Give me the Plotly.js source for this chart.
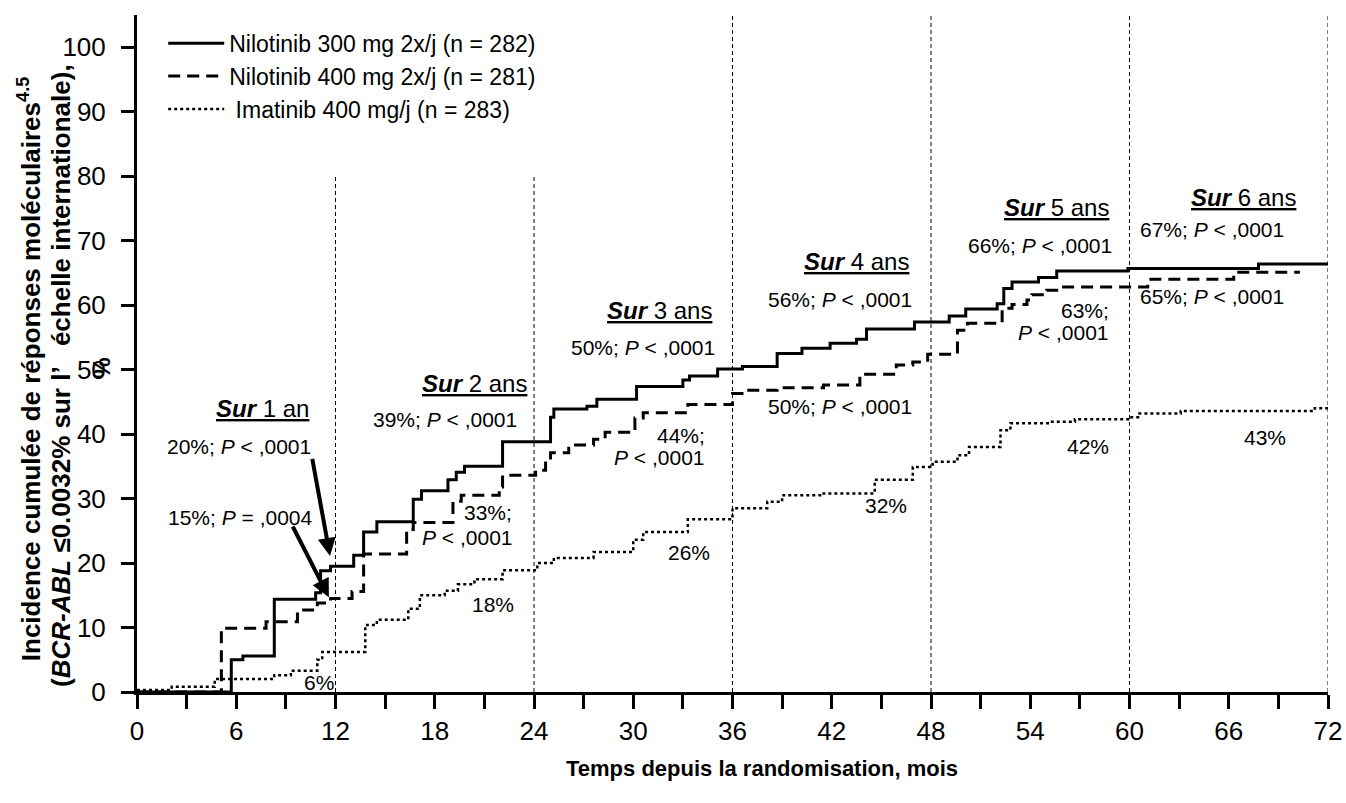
<!DOCTYPE html>
<html><head><meta charset="utf-8">
<script src="https://cdn.plot.ly/plotly-3.0.1.min.js"></script>
<style>html,body{margin:0;padding:0;background:#fff}#chart{width:1346px;height:803px}</style>
</head><body><div id="chart"></div>
<script>
// ---- data (months, cumulative incidence %) ----
const seriesNames = ["Nilotinib 300 mg 2x/j (n = 282)", "Nilotinib 400 mg 2x/j (n = 281)", " Imatinib 400 mg/j (n = 283)"];

const nil300Months = [0, 5.7, 6.4, 8.3, 10.8, 11.1, 11.7, 13.1, 13.7, 14.5, 16.7, 17.2, 18.8, 19.3, 19.8, 22.1, 25.0, 25.2, 27.2, 27.8, 30.2, 33.0, 33.4, 35.1, 36.6, 38.7, 40.2, 41.9, 43.5, 44.1, 47.0, 49.1, 50.1, 52.0, 52.4, 52.9, 54.5, 55.6, 59.9, 67.8, 72];
const nil300Pct    = [0, 5.0, 5.6, 14.4, 15.4, 18.8, 19.5, 21.2, 24.8, 26.4, 29.9, 31.2, 32.9, 34.1, 35.0, 38.8, 42.6, 43.9, 44.3, 45.4, 47.4, 48.4, 49.0, 50.1, 50.5, 52.5, 53.3, 54.1, 54.7, 56.3, 57.4, 58.3, 59.4, 60.2, 62.6, 63.6, 64.3, 65.3, 65.7, 66.4, 66.4];

const nil400Months = [0, 5.1, 7.8, 9.7, 10.9, 11.7, 13.0, 13.7, 16.3, 16.7, 19.1, 19.6, 21.9, 22.1, 24.1, 24.7, 25.0, 26.1, 27.6, 28.3, 30.1, 30.6, 33.3, 36.0, 36.8, 38.7, 41.5, 43.7, 45.9, 46.9, 47.8, 49.6, 50.2, 52.3, 52.9, 53.8, 54.1, 55.0, 55.6, 61.1, 66.3, 70.3];
const nil400Pct    = [0, 9.9, 10.9, 12.7, 13.8, 14.5, 15.6, 21.4, 25.2, 26.3, 29.6, 30.5, 31.8, 33.6, 34.4, 36.0, 37.1, 38.3, 39.2, 40.3, 42.5, 43.3, 44.6, 46.3, 46.8, 47.2, 47.6, 49.3, 50.7, 51.2, 52.4, 56.1, 57.2, 59.5, 60.1, 60.8, 61.6, 62.3, 62.8, 64.0, 65.1, 65.1];

const imaMonths = [0, 2.1, 4.7, 8.3, 9.3, 10.9, 11.2, 13.8, 14.5, 16.4, 17.1, 18.6, 19.4, 20.4, 22.1, 24.2, 25.2, 27.6, 30.0, 30.6, 33.3, 36.0, 38.1, 39.0, 41.3, 44.6, 46.9, 48.1, 49.6, 50.3, 52.2, 52.8, 55.2, 56.7, 60.0, 60.6, 63.1, 71.2, 72];
const imaPct    = [0.3, 0.8, 2.0, 2.6, 3.3, 5.0, 6.2, 10.4, 11.2, 12.9, 15.0, 15.7, 16.7, 17.5, 18.9, 20.0, 20.8, 21.7, 23.6, 24.8, 26.8, 28.5, 29.5, 30.5, 30.8, 32.9, 34.9, 35.7, 36.7, 38.0, 40.6, 41.7, 41.9, 42.3, 42.6, 43.2, 43.6, 44.0, 44.0];

const xTickVals = [0, 6, 12, 18, 24, 30, 36, 42, 48, 54, 60, 66, 72];
const yTickVals = [0, 10, 20, 30, 40, 50, 60, 70, 80, 90, 100];
const yearMonths = [12, 24, 36, 48, 60, 72];

const periodLabels = ["1 an", "2 ans", "3 ans", "4 ans", "5 ans", "6 ans"];
const valueLabels = ["20%; <i>P</i> < ,0001", "15%; <i>P</i> = ,0004", "6%",
  "39%; <i>P</i> < ,0001", "33%;", "<i>P</i> < ,0001", "18%",
  "50%; <i>P</i> < ,0001", "44%;", "<i>P</i> < ,0001", "26%",
  "56%; <i>P</i> < ,0001", "50%; <i>P</i> < ,0001", "32%",
  "66%; <i>P</i> < ,0001", "63%;", "<i>P</i> < ,0001", "42%",
  "67%; <i>P</i> < ,0001", "65%; <i>P</i> < ,0001", "43%"];

// ---- layout / style ----
const FONT = 'Arial, "Liberation Sans", sans-serif';
const periodPos = [[7.56, 44.0], [20.4, 47.9], [31.6, 59.2], [43.5, 66.7], [55.6, 75.2], [66.9, 76.7]];
const valuePos = [[6.17, 38.0], [6.23, 27.0], [11.0, 1.55],
  [18.6, 42.2], [21.2, 27.9], [20.0, 24.0], [21.5, 13.5],
  [30.6, 53.5], [32.9, 39.8], [31.6, 36.4], [33.4, 21.6],
  [42.5, 60.8], [42.5, 44.3], [45.3, 29.0],
  [54.6, 69.3], [57.3, 59.2], [56.0, 55.7], [57.5, 38.0],
  [65.0, 71.8], [65.0, 61.4], [68.2, 39.4]];
const yearTops = [80, 80, 105, 105, 105, 105];

const traces = [
  {x: nil300Months, y: nil300Pct, name: seriesNames[0], legendgroup: 'a', line: {color: '#000', width: 3, shape: 'hv'}},
  {x: nil400Months, y: nil400Pct, name: seriesNames[1], legendgroup: 'b', line: {color: '#000', width: 3, shape: 'hv', dash: '12px,7px'}},
  {x: imaMonths, y: imaPct, name: seriesNames[2], legendgroup: 'c', line: {color: '#000', width: 2.5, shape: 'hv', dash: '3px,3px'}}
].map(t => Object.assign({type: 'scatter', mode: 'lines', hoverinfo: 'skip'}, t));

const annotations = [];
periodLabels.forEach((t, i) => annotations.push({
  x: periodPos[i][0], y: periodPos[i][1], xref: 'x', yref: 'y', showarrow: false,
  text: '<span style="text-decoration:underline"><b><i>Sur</i></b> ' + t + '</span>',
  font: {family: FONT, size: 24, color: '#000'}
}));
valueLabels.forEach((t, i) => annotations.push({
  x: valuePos[i][0], y: valuePos[i][1], xref: 'x', yref: 'y', showarrow: false,
  text: t, font: {family: FONT, size: 21, color: '#000'}
}));
// arrows
annotations.push({x: 11.67, y: 21.1, ax: 10.58, ay: 36.4, axref: 'x', ayref: 'y', xref: 'x', yref: 'y', text: '', showarrow: true, arrowhead: 2, arrowsize: 0.9, arrowwidth: 4, arrowcolor: '#000'});
annotations.push({x: 11.6, y: 14.7, ax: 9.37, ay: 25.9, axref: 'x', ayref: 'y', xref: 'x', yref: 'y', text: '', showarrow: true, arrowhead: 2, arrowsize: 0.9, arrowwidth: 4, arrowcolor: '#000'});
// y title (two lines) and stray %
annotations.push({xref: 'paper', yref: 'paper', x: -0.09, y: 0.478, textangle: -90, showarrow: false, xanchor: 'center', yanchor: 'middle',
  text: '<b>Incidence cumulée de réponses moléculaires<sup>4.5</sup></b>', font: {family: FONT, size: 26, color: '#000'}});
annotations.push({xref: 'paper', yref: 'paper', x: -0.064, y: 0.468, textangle: -90, showarrow: false, xanchor: 'center', yanchor: 'middle',
  text: '<b>(<i>BCR-ABL</i> ≤0.0032% sur l\u2019   échelle internationale),</b>', font: {family: FONT, size: 26, color: '#000'}});
annotations.push({xref: 'paper', yref: 'paper', x: -0.030, y: 0.478, textangle: -90, showarrow: false, xanchor: 'center', yanchor: 'middle',
  text: '<b>%</b>', font: {family: FONT, size: 24, color: '#000'}});
// x title
annotations.push({xref: 'paper', yref: 'paper', x: 0.525, y: -0.092, yanchor: 'top', showarrow: false,
  text: '<b>Temps depuis la randomisation, mois</b>', font: {family: FONT, size: 22, color: '#000'}});

const shapes = yearMonths.map((m, i) => ({type: 'line', xref: 'x', yref: 'y', x0: m, x1: m, y0: 0, y1: yearTops[i],
  line: {color: '#000', width: 1, dash: '4px,3px'}}));

const layout = {
  width: 1346, height: 803,
  margin: {l: 137, r: 18, t: 15, b: 111},
  paper_bgcolor: '#fff', plot_bgcolor: '#fff',
  font: {family: FONT, color: '#000'},
  showlegend: true,
  legend: {x: 0.022, y: 0.99, xanchor: 'left', yanchor: 'top', font: {family: FONT, size: 23, color: '#000'},
    bgcolor: 'rgba(0,0,0,0)', tracegroupgap: 0, itemwidth: 56},
  xaxis: {range: [0, 72], tickvals: xTickVals, ticks: 'outside', ticklen: 14, tickwidth: 3, tickcolor: '#000',
    minor: {dtick: 3, tick0: 0, ticks: 'outside', ticklen: 14, tickwidth: 3, tickcolor: '#000', showgrid: false},
    showline: true, linewidth: 3, linecolor: '#000', showgrid: false, zeroline: false,
    tickfont: {family: FONT, size: 26, color: '#000'}, fixedrange: true},
  yaxis: {range: [0, 105], tickvals: yTickVals, ticks: 'outside', ticklen: 13, tickwidth: 3, tickcolor: '#000',
    showline: true, linewidth: 3, linecolor: '#000', showgrid: false, zeroline: false, ticklabelstandoff: 10,
    tickfont: {family: FONT, size: 26, color: '#000'}, fixedrange: true},
  annotations: annotations,
  shapes: shapes
};

Plotly.newPlot('chart', traces, layout, {displayModeBar: false, staticPlot: true});
</script>
</body></html>
